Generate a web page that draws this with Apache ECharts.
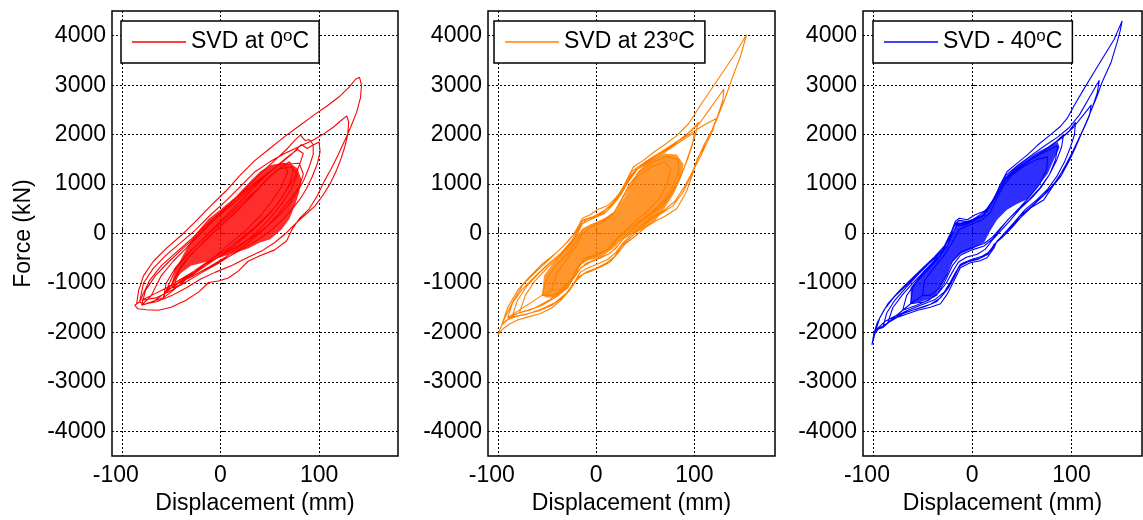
<!DOCTYPE html>
<html>
<head>
<meta charset="utf-8">
<title>SVD force - displacement</title>
<script src="https://cdn.jsdelivr.net/npm/echarts@6/dist/echarts.min.js"></script>
<style>
  html, body { margin: 0; padding: 0; background: #fff; }
  #main { width: 1143px; height: 520px; }
</style>
</head>
<body>
<div id="main"></div>
<script>
var FONT = 'Liberation Sans, Arial, sans-serif';
var FS = 23;

// tick labels
var xTicks = [-100, 0, 100];
var yTicks = [-4000, -3000, -2000, -1000, 0, 1000, 2000, 3000, 4000];

var names  = ['SVD at 0oC', 'SVD at 23oC', 'SVD - 40oC'];
var colors = ['#ff0000', '#ff8000', '#0000ff'];

// ---- SVD at 0 C : loops of [displacement mm, force kN]
var red_A = [[-85,-1420],[-83,-1150],[-78,-850],[-68,-560],[-55,-300],[-40,-40],[-25,250],[-10,560],[5,850],[20,1180],[35,1480],[50,1720],[65,1960],[80,2180],[95,2400],[108,2580],[120,2760],[130,2950],[137,3120],[141,3160],[143,3000],[142,2750],[138,2450],[132,2150],[126,1880],[119,1580],[112,1300],[105,1050],[98,760],[90,500],[80,300],[73,100],[67,-150],[55,-330],[40,-450],[28,-560],[18,-760],[8,-900],[-2,-960],[-12,-990],[-22,-1180],[-35,-1350],[-50,-1490],[-63,-1550],[-75,-1540],[-84,-1520],[-87,-1450],[-85,-1420]];
var red_B = [[-82,-1380],[-78,-1000],[-68,-700],[-55,-430],[-40,-180],[-25,80],[-10,380],[5,650],[20,950],[35,1250],[50,1450],[65,1620],[80,1760],[95,1900],[105,2020],[115,2160],[122,2280],[128,2380],[130,2250],[129,2000],[126,1750],[122,1500],[117,1250],[111,1000],[104,780],[96,560],[86,380],[76,200],[66,0],[55,-180],[42,-350],[28,-480],[12,-640],[-5,-780],[-20,-920],[-35,-1100],[-50,-1260],[-65,-1380],[-78,-1430],[-82,-1380]];
var red_C = [[-80,-1350],[-72,-950],[-60,-650],[-45,-380],[-30,-120],[-15,160],[0,430],[15,700],[30,950],[45,1180],[60,1400],[72,1600],[82,1800],[88,1720],[93,1780],[100,1850],[101,1650],[98,1400],[93,1150],[87,900],[80,680],[72,480],[63,280],[52,80],[40,-100],[25,-280],[10,-450],[-5,-620],[-20,-800],[-35,-980],[-50,-1150],[-65,-1300],[-80,-1350]];
var red_D = [[-70,-1250],[-60,-850],[-48,-560],[-35,-300],[-20,0],[-5,300],[10,600],[25,900],[40,1200],[55,1480],[68,1720],[76,1900],[81,1990],[86,1880],[90,1900],[94,1800],[94,1600],[90,1350],[85,1100],[78,850],[70,600],[60,380],[48,160],[35,-40],[20,-220],[5,-400],[-10,-560],[-25,-740],[-40,-920],[-55,-1100],[-70,-1250]];
var red_E = [[-80,-1450],[-76,-1150],[-66,-850],[-52,-560],[-38,-300],[-22,-20],[-8,250],[8,520],[24,800],[40,1080],[55,1330],[68,1550],[78,1700],[84,1620],[80,1380],[74,1100],[66,850],[58,600],[48,380],[36,150],[22,-80],[8,-300],[-8,-500],[-24,-720],[-40,-950],[-55,-1180],[-68,-1380],[-80,-1450]];
var red_F = [[-58,-1300],[-55,-1000],[-46,-700],[-34,-420],[-20,-150],[-5,120],[10,400],[25,680],[40,950],[52,1180],[62,1350],[70,1450],[74,1300],[70,1000],[62,720],[52,450],[40,200],[26,-50],[12,-280],[-4,-500],[-20,-720],[-35,-930],[-48,-1150],[-58,-1300]];
var red_K1 = [[-55,-1150],[-45,-700],[-30,-350],[-15,-50],[0,250],[15,550],[30,850],[45,1150],[58,1380],[65,1420],[68,1250],[62,950],[52,650],[40,350],[25,50],[10,-200],[-5,-450],[-20,-700],[-35,-900],[-48,-1080],[-55,-1150]];
var red_K2 = [[-50,-1050],[-40,-650],[-28,-380],[-12,-80],[3,200],[18,480],[32,780],[46,1080],[58,1300],[72,1350],[78,1200],[72,900],[62,600],[50,300],[36,20],[20,-250],[5,-480],[-12,-680],[-28,-860],[-42,-1000],[-50,-1050]];
var red_K3 = [[-48,-1100],[-42,-750],[-32,-480],[-18,-180],[-2,120],[12,380],[28,680],[42,980],[55,1250],[66,1400],[80,1420],[84,1200],[80,950],[70,680],[58,380],[45,100],[30,-150],[15,-380],[-2,-600],[-20,-800],[-35,-980],[-48,-1100]];
// dense middle of the 0 C record (outline)
var red_core = [[-52,-1150],[-45,-700],[-33,-250],[-25,0],[-12,300],[1,500],[15,740],[30,1050],[40,1250],[50,1380],[61,1420],[72,1400],[78,1320],[82,1100],[80,850],[76,600],[70,300],[62,80],[50,-120],[40,-180],[28,-300],[8,-430],[-12,-560],[-30,-650],[-40,-800],[-48,-1000],[-55,-1150]];

// ---- SVD at 23 C
var org_A = [[-100,-2050],[-97,-1900],[-94,-1750],[-89,-1550],[-84,-1350],[-74,-1020],[-60,-750],[-46,-490],[-33,-250],[-23,-20],[-18,150],[-14,310],[-6,380],[1,480],[10,550],[15,620],[20,720],[25,850],[31,1080],[38,1350],[48,1480],[59,1650],[70,1800],[82,1980],[94,2220],[106,2590],[123,3090],[140,3590],[153,4020],[147,3590],[138,3120],[131,2720],[123,2320],[113,1850],[103,1520],[99,1250],[92,850],[82,500],[70,350],[60,250],[50,120],[40,-50],[30,-200],[22,-400],[14,-580],[5,-670],[-5,-760],[-13,-820],[-20,-950],[-27,-1150],[-36,-1350],[-45,-1500],[-57,-1620],[-70,-1690],[-80,-1750],[-88,-1830],[-95,-1930],[-100,-2050]];
var org_B = [[-96,-1850],[-90,-1500],[-80,-1150],[-68,-880],[-55,-620],[-40,-380],[-28,-150],[-20,60],[-15,250],[-5,320],[5,420],[15,560],[25,780],[33,1050],[42,1300],[55,1480],[70,1700],[85,1900],[98,2100],[106,2250],[115,2500],[124,2750],[130,2920],[129,2700],[124,2400],[118,2100],[110,1800],[102,1450],[96,1150],[88,820],[78,560],[66,400],[55,280],[45,100],[35,-80],[26,-250],[18,-480],[10,-600],[0,-700],[-10,-780],[-18,-880],[-25,-1080],[-33,-1280],[-45,-1450],[-58,-1560],[-70,-1620],[-82,-1680],[-92,-1760],[-96,-1850]];
var org_C = [[-85,-1650],[-80,-1350],[-70,-1050],[-58,-800],[-45,-560],[-32,-330],[-22,-100],[-16,150],[-10,280],[0,350],[12,470],[22,700],[30,1000],[40,1280],[55,1450],[70,1650],[85,1850],[95,1980],[100,2030],[98,1800],[93,1500],[86,1150],[78,850],[68,560],[56,400],[46,260],[36,80],[28,-100],[20,-300],[12,-420],[0,-520],[-10,-600],[-18,-750],[-25,-950],[-35,-1150],[-48,-1350],[-62,-1500],[-75,-1580],[-85,-1650]];
var org_D = [[-78,-1600],[-72,-1250],[-62,-950],[-50,-700],[-38,-470],[-27,-250],[-20,-50],[-14,200],[-4,300],[8,400],[18,600],[27,900],[36,1200],[48,1400],[62,1580],[78,1780],[92,2000],[100,2150],[104,2250],[101,2000],[96,1700],[90,1350],[82,1000],[72,700],[62,500],[50,330],[40,150],[30,-50],[22,-250],[14,-400],[4,-500],[-6,-580],[-15,-680],[-22,-880],[-30,-1100],[-42,-1300],[-55,-1450],[-68,-1550],[-78,-1600]];
var org_E = [[-90,-1700],[-85,-1400],[-76,-1150],[-64,-900],[-50,-640],[-36,-400],[-25,-150],[-18,100],[-13,280],[-3,340],[8,460],[18,640],[27,920],[36,1250],[50,1450],[66,1650],[82,1850],[96,2020],[106,2150],[115,2250],[122,2320],[119,2100],[113,1850],[106,1550],[98,1250],[90,950],[80,650],[68,450],[56,330],[46,170],[36,-10],[28,-180],[20,-380],[12,-520],[2,-610],[-8,-690],[-16,-780],[-22,-980],[-30,-1200],[-42,-1400],[-56,-1530],[-72,-1640],[-90,-1700]];
var org_K1 = [[-55,-1250],[-50,-900],[-40,-620],[-28,-380],[-20,-150],[-14,80],[-5,180],[8,280],[18,420],[26,700],[34,1000],[44,1250],[58,1450],[72,1560],[84,1500],[84,1250],[78,950],[68,650],[56,420],[44,250],[32,80],[22,-100],[14,-300],[2,-430],[-10,-520],[-18,-650],[-24,-880],[-32,-1100],[-44,-1250],[-55,-1250]];
var org_K2 = [[-45,-1150],[-40,-800],[-30,-520],[-20,-250],[-14,0],[-6,120],[6,220],[16,360],[24,600],[32,900],[42,1150],[56,1350],[70,1450],[76,1300],[72,1000],[64,700],[52,450],[40,250],[30,60],[20,-120],[12,-320],[0,-420],[-12,-500],[-18,-700],[-26,-950],[-36,-1120],[-45,-1150]];
var org_core = [[-55,-1250],[-53,-850],[-40,-500],[-26,-220],[-19,-20],[-12,110],[-2,210],[11,340],[21,480],[28,710],[35,980],[42,1240],[55,1500],[70,1620],[82,1600],[89,1400],[86,1120],[79,800],[70,520],[60,250],[48,80],[35,-30],[25,-150],[18,-290],[5,-480],[-9,-550],[-17,-650],[-22,-850],[-28,-1100],[-40,-1290],[-50,-1300],[-55,-1250]];

// ---- SVD at 40 C
var blu_A = [[-101,-2250],[-99,-2020],[-96,-1820],[-89,-1550],[-79,-1290],[-65,-1020],[-52,-750],[-39,-520],[-28,-290],[-22,-20],[-17,250],[-13,310],[-5,280],[3,380],[12,450],[15,510],[22,710],[28,980],[35,1250],[45,1420],[55,1580],[66,1790],[79,2000],[89,2170],[96,2340],[103,2600],[113,2940],[123,3270],[133,3600],[143,3930],[151,4300],[149,4100],[146,3870],[140,3470],[131,3070],[125,2740],[118,2400],[111,2070],[104,1740],[98,1480],[89,1150],[82,980],[72,680],[59,520],[45,250],[32,-20],[25,-150],[22,-290],[15,-490],[8,-550],[-2,-590],[-12,-690],[-15,-820],[-20,-1020],[-25,-1220],[-32,-1420],[-42,-1490],[-55,-1550],[-65,-1620],[-75,-1690],[-86,-1820],[-94,-1920],[-99,-2050],[-101,-2250]];
var blu_B = [[-97,-1950],[-93,-1700],[-85,-1420],[-74,-1170],[-62,-930],[-50,-700],[-38,-470],[-28,-250],[-22,0],[-17,200],[-13,270],[-3,240],[5,340],[14,460],[20,650],[27,920],[34,1180],[45,1360],[58,1560],[72,1760],[86,1950],[98,2150],[108,2400],[118,2750],[128,3100],[126,2850],[121,2550],[115,2250],[108,1950],[101,1650],[94,1380],[86,1100],[76,850],[64,620],[52,400],[40,120],[30,-80],[22,-220],[16,-420],[8,-500],[-2,-550],[-12,-620],[-17,-800],[-22,-1000],[-28,-1200],[-36,-1380],[-48,-1480],[-62,-1560],[-75,-1640],[-88,-1780],[-97,-1950]];
var blu_C = [[-90,-1900],[-86,-1600],[-78,-1350],[-66,-1080],[-54,-820],[-42,-580],[-30,-350],[-23,-100],[-18,150],[-14,240],[-4,220],[6,320],[15,430],[21,640],[28,900],[36,1160],[48,1340],[62,1540],[76,1730],[90,1930],[102,2150],[110,2350],[116,2500],[120,2600],[118,2380],[113,2150],[107,1900],[100,1600],[92,1300],[83,1020],[72,780],[60,560],[48,350],[37,80],[28,-100],[21,-260],[14,-440],[6,-520],[-4,-570],[-13,-660],[-18,-880],[-24,-1100],[-32,-1300],[-42,-1430],[-56,-1520],[-70,-1620],[-82,-1760],[-90,-1900]];
var blu_D = [[-85,-1800],[-80,-1500],[-70,-1230],[-58,-960],[-46,-720],[-34,-480],[-25,-240],[-19,20],[-15,200],[-6,200],[4,290],[13,400],[20,600],[27,870],[34,1130],[46,1320],[60,1520],[74,1700],[88,1900],[98,2080],[104,2250],[103,2000],[99,1750],[93,1450],[85,1150],[76,900],[65,680],[53,480],[42,220],[33,20],[25,-160],[18,-360],[10,-460],[0,-520],[-10,-600],[-16,-760],[-22,-980],[-28,-1180],[-38,-1340],[-52,-1450],[-66,-1560],[-78,-1680],[-85,-1800]];
var blu_E = [[-70,-1550],[-66,-1250],[-57,-1000],[-46,-760],[-35,-520],[-26,-280],[-20,-20],[-16,160],[-8,170],[2,260],[12,370],[19,560],[26,820],[33,1080],[44,1280],[58,1480],[72,1680],[84,1850],[92,2000],[90,1750],[85,1480],[78,1200],[70,950],[60,720],[48,500],[38,260],[28,40],[20,-140],[13,-320],[5,-420],[-6,-480],[-14,-580],[-20,-780],[-26,-1000],[-34,-1200],[-44,-1350],[-56,-1450],[-70,-1550]];
var blu_K1 = [[-62,-1420],[-60,-1100],[-50,-800],[-38,-540],[-28,-280],[-20,0],[-14,180],[-2,260],[10,360],[18,520],[25,780],[32,1050],[42,1280],[55,1450],[68,1600],[80,1720],[86,1780],[84,1500],[78,1200],[68,920],[57,680],[46,480],[36,280],[27,60],[20,-120],[12,-250],[0,-330],[-12,-440],[-20,-650],[-27,-950],[-36,-1250],[-48,-1380],[-62,-1420]];
var blu_K2 = [[-50,-1250],[-48,-950],[-38,-680],[-28,-430],[-20,-180],[-13,80],[-2,180],[10,280],[18,420],[24,680],[31,950],[40,1180],[52,1360],[65,1500],[76,1550],[75,1300],[68,1000],[58,750],[48,530],[38,320],[28,100],[20,-80],[12,-200],[0,-280],[-12,-380],[-20,-560],[-26,-850],[-34,-1120],[-42,-1250],[-50,-1250]];
var blu_core = [[-62,-1420],[-62,-1090],[-49,-750],[-35,-490],[-25,-220],[-18,50],[-12,210],[2,310],[15,410],[22,650],[28,910],[35,1180],[45,1380],[55,1520],[66,1650],[79,1780],[86,1850],[88,1740],[82,1480],[76,1210],[66,950],[56,700],[45,600],[35,480],[25,280],[18,50],[12,-180],[2,-290],[-12,-420],[-22,-620],[-28,-950],[-38,-1290],[-52,-1380],[-62,-1420]];

var loops = [
  [red_A, red_B, red_C, red_D, red_E, red_F, red_K1, red_K2, red_K3],
  [org_A, org_B, org_C, org_D, org_E, org_K1, org_K2],
  [blu_A, blu_B, blu_C, blu_D, blu_E, blu_K1, blu_K2]
];
var cores = [red_core, org_core, blu_core];

// panel boxes (px) and x ranges
var boxes = [
  {left: 112, width: 286, xmax: 180},
  {left: 488, width: 287, xmax: 182},
  {left: 863, width: 279, xmax: 171}
];
var legendLeft = [121, 494, 873];

function joinLoops(list) {
  var out = [];
  for (var i = 0; i < list.length; i++) out = out.concat(list[i]);
  return out;
}

var grids = [], xAxes = [], yAxes = [], legends = [], series = [];

boxes.forEach(function (b, i) {
  grids.push({left: b.left, top: 11, width: b.width, height: 450,
    show: true, borderColor: '#000', borderWidth: 1.5, backgroundColor: '#fff'});

  xAxes.push({
    type: 'value', gridIndex: i, min: -110, max: b.xmax,
    name: 'Displacement (mm)', nameLocation: 'middle', nameGap: 32,
    nameTextStyle: {fontSize: FS, color: '#000', fontFamily: FONT},
    axisLine: {show: false},
    axisTick: {show: true, inside: true, length: 5, customValues: xTicks, lineStyle: {color: '#000'}},
    axisLabel: {
      customValues: xTicks, fontSize: FS, color: '#000', fontFamily: FONT, margin: 8,
      formatter: function (v) { return v < 0 ? '{n|' + v + '}' : '' + v; },
      rich: {n: {fontSize: FS, color: '#000', fontFamily: FONT, padding: [0, 12, 0, 0]}}
    },
    splitLine: {show: true, lineStyle: {color: '#000', width: 1, type: [2, 2]}}
  });

  yAxes.push({
    type: 'value', gridIndex: i, min: -4500, max: 4500,
    name: i === 0 ? 'Force (kN)' : '', nameLocation: 'middle', nameGap: 77, nameRotate: 90,
    nameTextStyle: {fontSize: FS, color: '#000', fontFamily: FONT},
    axisLine: {show: false},
    axisTick: {show: true, inside: true, length: 5, customValues: yTicks, lineStyle: {color: '#000'}},
    axisLabel: {customValues: yTicks, fontSize: FS, color: '#000', fontFamily: FONT, margin: 6,
      formatter: function (v) { return '' + v; }},
    splitLine: {show: true, lineStyle: {color: '#000', width: 1, type: [2, 2]}}
  });

  legends.push({
    data: [names[i]], left: legendLeft[i], top: 21,
    icon: 'rect', itemWidth: 54, itemHeight: 1.5, itemGap: 0,
    padding: [7, 10, 7, 11],
    borderColor: '#000', borderWidth: 1.5, borderRadius: 0, backgroundColor: '#fff',
    selectedMode: false,
    formatter: function (n) { return n.replace(/(\d)oC$/, '$1{s|o}C'); },
    textStyle: {fontSize: FS, color: '#000', fontFamily: FONT, lineHeight: 28,
      rich: {s: {fontSize: 17, color: '#000', fontFamily: FONT, verticalAlign: 'top', lineHeight: 17}}}
  });

  var core = cores[i];
  var col = colors[i];
  series.push({
    name: 'core' + i, type: 'custom', xAxisIndex: i, yAxisIndex: i,
    data: [[0, 0]], silent: true, z: 2,
    renderItem: function (params, api) {
      return {
        type: 'polygon',
        shape: {points: core.map(function (p) { return api.coord(p); })},
        style: {fill: col, opacity: 0.82}
      };
    }
  });

  series.push({
    name: names[i], type: 'line', xAxisIndex: i, yAxisIndex: i,
    data: joinLoops(loops[i]),
    showSymbol: false, symbol: 'none', z: 3,
    itemStyle: {color: col},
    lineStyle: {color: col, width: 1.1}
  });
});

var myChart = echarts.init(document.getElementById('main'));
myChart.setOption({
  animation: false,
  backgroundColor: '#fff',
  textStyle: {fontFamily: FONT},
  grid: grids,
  xAxis: xAxes,
  yAxis: yAxes,
  legend: legends,
  series: series
});
</script>
</body>
</html>
